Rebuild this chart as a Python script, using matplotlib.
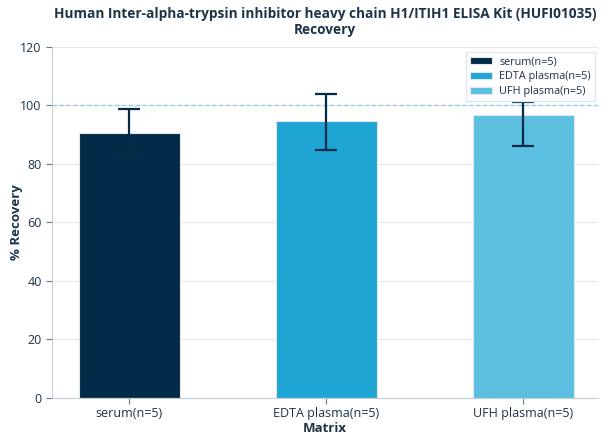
import matplotlib.pyplot as plt

plt.rcParams['font.family'] = ['Open Sans', 'DejaVu Sans']

# data
categories = ["serum(n=5)", "EDTA plasma(n=5)", "UFH plasma(n=5)"]
recovery = [90.7, 94.8, 96.7]
err_low = [8.2, 9.9, 10.6]
err_high = [8.2, 9.2, 4.4]
colors = ["#022b4a", "#1fa5d4", "#5bbfe0"]

text_col = "#1e3348"
fig = plt.figure(figsize=(6.08, 4.43), dpi=100)
ax = fig.add_axes([0.0855, 0.1016, 0.898, 0.7924])

x = range(len(categories))
bars = ax.bar(x, recovery, width=0.51, color=colors, edgecolor="#dfe6ec",
              linewidth=0.8, label=categories, zorder=2)
ax.errorbar(x, recovery, yerr=[err_low, err_high], fmt="none",
            ecolor="#062b48", elinewidth=1.6, capsize=8, capthick=1.6, zorder=3)

ax.axhline(100, color="#8fd0e8", linestyle=(0, (3, 2)), linewidth=1, zorder=1)

ax.set_xlim(-0.393, 2.378)
ax.set_ylim(0, 120)
ax.set_yticks(range(0, 121, 20))
ax.set_xticks(list(x))
ax.set_xticklabels(categories)
ax.grid(axis="y", color="#e3e8ee", linewidth=0.8, zorder=0)
ax.set_axisbelow(True)

for s in ["top", "right"]:
    ax.spines[s].set_visible(False)
for s in ["left", "bottom"]:
    ax.spines[s].set_color("#c5ced6")
ax.tick_params(colors="#6b7a88", labelcolor=text_col, labelsize=9, length=4)
ax.tick_params(axis="x", pad=2.5)

ax.set_xlabel("Matrix", fontsize=9.5, fontweight="bold", color=text_col, labelpad=1.5)
ax.set_ylabel("% Recovery", fontsize=9.5, fontweight="bold", color=text_col, labelpad=-2)
ax.set_title("Human Inter-alpha-trypsin inhibitor heavy chain H1/ITIH1 ELISA Kit (HUFI01035)\nRecovery",
             fontsize=9.8, fontweight="bold", color=text_col, pad=9, linespacing=1.2)

leg = ax.legend(loc="upper right", fontsize=7.8, frameon=True, edgecolor="#dfe6ec",
                fancybox=False, handlelength=2.0, handleheight=0.6, labelcolor=text_col,
                labelspacing=0.35, borderpad=0.4, handletextpad=0.7,
                bbox_to_anchor=(0.995, 0.985), borderaxespad=0.0, framealpha=1)
leg.set_zorder(5)

plt.savefig("out.png", dpi=100)
plt.close()
